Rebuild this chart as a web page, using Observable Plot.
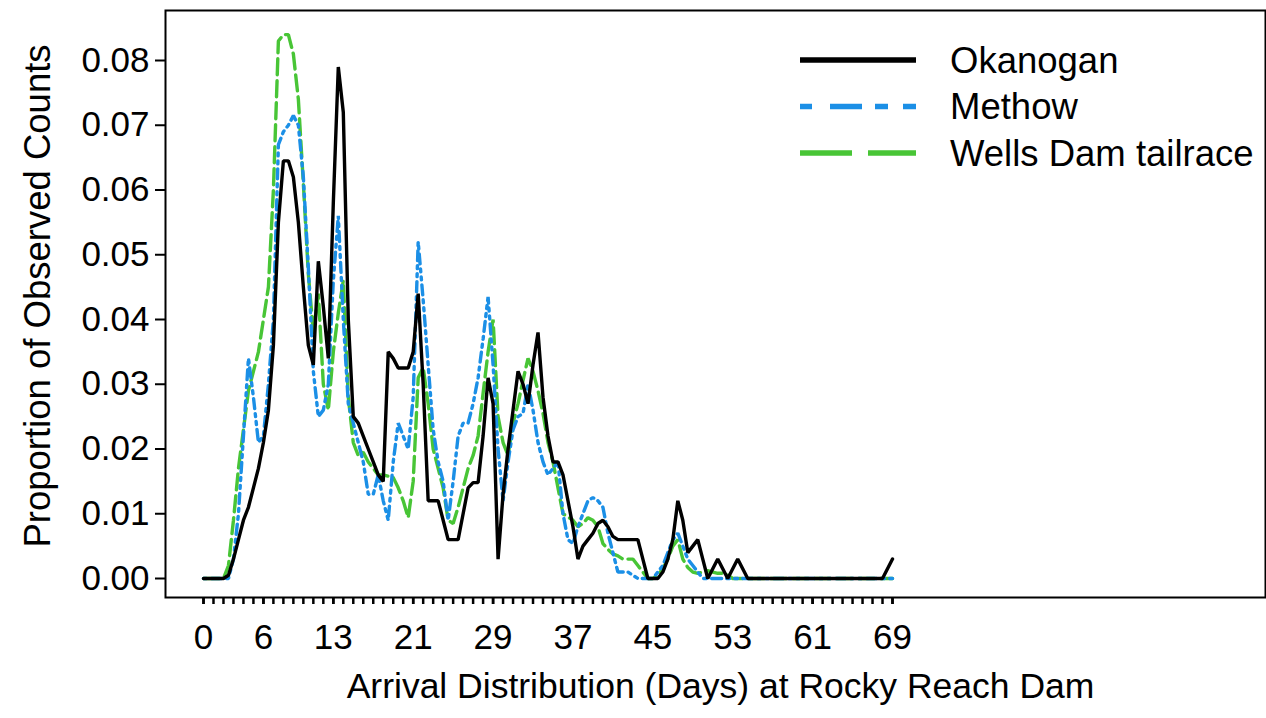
<!DOCTYPE html>
<html><head><meta charset="utf-8">
<script src="https://cdn.jsdelivr.net/npm/d3@7"></script>
<script src="https://cdn.jsdelivr.net/npm/@observablehq/plot@0.6"></script>
<style>body{margin:0;background:#fff} svg{display:block}</style>
</head><body><div id="chart"></div>
<script>
// Arrival day (half-day resolution through day 55, then daily)
const days = [
  0,0.5,1,1.5,2,2.5,3,3.5,4,4.5,
  5,5.5,6,6.5,7,7.5,8,8.5,9,9.5,
  10,10.5,11,11.5,12,12.5,13,13.5,14,14.5,
  15,15.5,16,16.5,17,17.5,18,18.5,19,19.5,
  20,20.5,21,21.5,22,22.5,23,23.5,24,24.5,
  25,25.5,26,26.5,27,27.5,28,28.5,29,29.5,
  30,30.5,31,31.5,32,32.5,33,33.5,34,34.5,
  35,35.5,36,36.5,37,37.5,38,38.5,39,39.5,
  40,40.5,41,41.5,42,42.5,43,43.5,44,44.5,
  45,45.5,46,46.5,47,47.5,48,48.5,49,49.5,
  50,50.5,51,51.5,52,52.5,53,53.5,54,54.5,
  55,56,57,58,59,60,61,62,63,64,65,66,67,68,69
];
const okanogan = [
  0,0,0,0,0,0.0005,0.003,0.006,0.009,0.011,
  0.014,0.017,0.021,0.026,0.036,0.055,0.0645,0.0645,0.062,0.055,
  0.045,0.036,0.033,0.049,0.042,0.034,0.058,0.079,0.072,0.040,
  0.025,0.024,0.022,0.020,0.018,0.016,0.015,0.035,0.034,0.0325,
  0.0325,0.0325,0.035,0.044,0.030,0.012,0.012,0.012,0.009,0.006,
  0.006,0.006,0.010,0.014,0.0148,0.0148,0.022,0.031,0.027,0.003,
  0.013,0.020,0.026,0.032,0.030,0.027,0.033,0.038,0.028,0.022,
  0.018,0.018,0.016,0.012,0.008,0.003,0.005,0.006,0.007,0.0085,
  0.009,0.008,0.0065,0.006,0.006,0.006,0.006,0.006,0.003,0,
  0,0,0.001,0.003,0.006,0.012,0.009,0.004,0.005,0.006,
  0.003,0,0.0015,0.003,0.0015,0,0.0015,0.003,0.0015,0,
  0,0,0,0,0,0,0,0,0,0,0,0,0,0,0.003
];
const methow = [
  0,0,0,0,0,0,0.003,0.010,0.022,0.034,
  0.028,0.021,0.022,0.030,0.040,0.067,0.069,0.070,0.0715,0.070,
  0.062,0.048,0.032,0.025,0.026,0.030,0.046,0.056,0.040,0.027,
  0.024,0.021,0.018,0.013,0.013,0.016,0.012,0.009,0.018,0.024,
  0.022,0.020,0.028,0.052,0.043,0.033,0.023,0.018,0.015,0.009,
  0.015,0.022,0.024,0.024,0.027,0.031,0.037,0.0435,0.033,0.020,
  0.012,0.018,0.023,0.025,0.0255,0.030,0.026,0.021,0.018,0.016,
  0.017,0.018,0.010,0.006,0.0054,0.008,0.010,0.012,0.0125,0.012,
  0.011,0.007,0.004,0.001,0.001,0.001,0.0005,0,0,0,
  0,0.001,0.002,0.004,0.006,0.007,0.005,0.003,0.002,0.001,
  0,0,0,0,0,0,0,0,0,0,
  0,0,0,0,0,0,0,0,0,0,0,0,0,0,0
];
const wells = [
  0,0,0,0,0,0.002,0.009,0.017,0.023,0.029,
  0.032,0.035,0.040,0.045,0.060,0.083,0.084,0.084,0.081,0.074,
  0.061,0.047,0.038,0.044,0.030,0.026,0.035,0.041,0.046,0.028,
  0.021,0.019,0.0195,0.018,0.017,0.016,0.016,0.0158,0.0156,0.014,
  0.012,0.0094,0.015,0.031,0.0326,0.027,0.020,0.017,0.014,0.009,
  0.0085,0.011,0.014,0.017,0.019,0.022,0.0286,0.035,0.040,0.025,
  0.021,0.019,0.024,0.027,0.0306,0.034,0.032,0.029,0.0255,0.021,
  0.018,0.014,0.010,0.0095,0.009,0.008,0.0085,0.0094,0.009,0.008,
  0.0054,0.0045,0.0038,0.0035,0.003,0.003,0.003,0.002,0.001,0,
  0,0.0005,0.0015,0.003,0.005,0.006,0.003,0.0017,0.001,0.0008,
  0.001,0.0012,0.001,0.0008,0.0008,0.0005,0,0,0,0,
  0,0,0,0,0,0,0,0,0,0,0,0,0,0,0
];
const seriesNames = ["Okanogan", "Methow", "Wells Dam tailrace"];
const xTickLabels = [0, 6, 13, 21, 29, 37, 45, 53, 61, 69];
const yTicks = [0, 0.01, 0.02, 0.03, 0.04, 0.05, 0.06, 0.07, 0.08];
const xTitle = "Arrival Distribution (Days) at Rocky Reach Dam";
const yTitle = "Proportion of Observed Counts";

const styles = {
  "Okanogan": {stroke: "#000000", dash: null, legendDash: null},
  "Methow": {stroke: "#1b8fe6", dash: "3 5 10 5 3 5", legendDash: "12 18 32 13 13 15 13"},
  "Wells Dam tailrace": {stroke: "#48c536", dash: "16 6", legendDash: "52 16 48"}
};
const valuesBySeries = {"Okanogan": okanogan, "Methow": methow, "Wells Dam tailrace": wells};
const rows = seriesNames.flatMap(s => days.map((d, i) => ({day: d, value: valuesBySeries[s][i], series: s})));
const minorTicks = d3.range(0, 70);
const drawOrder = ["Wells Dam tailrace", "Methow", "Okanogan"];

const chart = Plot.plot({
  width: 1266, height: 718,
  marginLeft: 165, marginRight: 1, marginTop: 10, marginBottom: 121,
  style: {fontFamily: "'Liberation Sans', Arial, sans-serif", fontSize: "35px", background: "white", color: "black"},
  x: {domain: [0, 69], range: [203, 892], label: null},
  y: {domain: [0, 0.08], range: [578, 60], label: null},
  marks: [
    Plot.axisX({ticks: minorTicks, tickSize: 7, tickFormat: () => "", strokeWidth: 2.5, label: null}),
    Plot.axisX({ticks: xTickLabels, tickSize: 7, tickPadding: 20, strokeWidth: 2.5, tickFormat: d => String(d), label: null}),
    Plot.axisY({ticks: yTicks, tickSize: 10, tickPadding: 6, strokeWidth: 2, tickFormat: d3.format(".2f"), label: null}),
    ...drawOrder.map(s => Plot.line(rows.filter(r => r.series === s), {
      x: "day", y: "value", stroke: styles[s].stroke, strokeWidth: 3.4,
      strokeDasharray: styles[s].dash, strokeLinejoin: "miter"
    })),
    Plot.frame({stroke: "black", strokeWidth: 2}),
    Plot.text([yTitle], {text: d => d, frameAnchor: "left", textAnchor: "middle", dx: -127, dy: -8, rotate: -90, fontSize: 36.5}),
    Plot.text([xTitle], {text: d => d, frameAnchor: "bottom", textAnchor: "middle", dy: 100, dx: 5, fontSize: 35.5})
  ]
});

// Legend (inside plot, upper right)
const svg = d3.select(chart);
const lg = svg.append("g")
  .attr("font-family", "'Liberation Sans', Arial, sans-serif")
  .attr("font-size", 36.5)
  .attr("text-anchor", "start");
seriesNames.forEach((s, i) => {
  const y = 60 + i * 46.5;
  lg.append("line").attr("x1", 800).attr("x2", 916).attr("y1", y).attr("y2", y)
    .attr("stroke", styles[s].stroke).attr("stroke-width", 5.5)
    .attr("stroke-dasharray", styles[s].legendDash);
  lg.append("text").attr("x", 950).attr("y", y).attr("dy", "0.35em")
    .attr("text-anchor", "start").attr("fill", "black").text(s);
});

document.getElementById("chart").appendChild(chart);
</script>
</body></html>
